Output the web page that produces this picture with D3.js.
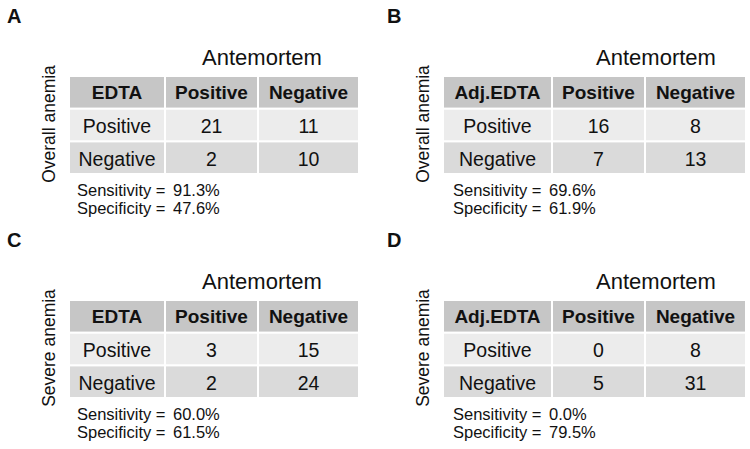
<!DOCTYPE html>
<html>
<head>
<meta charset="utf-8">
<script src="https://cdn.jsdelivr.net/npm/d3@7"></script>
<style>
  body { margin: 0; background: #fff; }
  svg { display: block; font-family: "Liberation Sans", Arial, sans-serif; }
</style>
</head>
<body>
<svg id="chart"></svg>
<script>
// data
const panelLetters = ["A", "B", "C", "D"];
const methods = ["EDTA", "Adj.EDTA", "EDTA", "Adj.EDTA"];
const anemiaTypes = ["Overall anemia", "Overall anemia", "Severe anemia", "Severe anemia"];
const colLabels = ["Positive", "Negative"];
const rowLabels = ["Positive", "Negative"];
const counts = [
  [[21, 11], [2, 10]],
  [[16, 8], [7, 13]],
  [[3, 15], [2, 24]],
  [[0, 8], [5, 31]]
];
const sensitivity = ["91.3%", "69.6%", "60.0%", "0.0%"];
const specificity = ["47.6%", "61.9%", "61.5%", "79.5%"];

const W = 750, H = 449;
const svg = d3.select("#chart").attr("width", W).attr("height", H);

// panel layout
const origins = [[0, 0], [374, 0], [0, 224], [374, 224]];
const firstColW = [94, 107, 94, 107];
const titleDx = [0, 7, 0, 7];
const gap = 2;
const fill = { header: "#c6c6c6", Positive: "#ececec", Negative: "#dadada" };

panelLetters.forEach((letter, p) => {
  const [ox, oy] = origins[p];
  const g = svg.append("g").attr("transform", `translate(${ox},${oy})`);

  const left = 70;
  const widths = [firstColW[p], 91, 99];
  const cols = ["label"].concat(colLabels.map(c => "c_" + c));
  const starts = [];
  widths.reduce((x, w) => { starts.push(x); return x + w + gap; }, left);
  const x = d3.scaleOrdinal().domain(cols).range(starts);
  const w = d3.scaleOrdinal().domain(cols).range(widths);

  const y = d3.scaleBand()
    .domain(["header"].concat(rowLabels))
    .range([77, 173])
    .paddingInner(0.065);

  // panel letter
  g.append("text")
    .attr("x", p % 2 ? 13 : 7)
    .attr("y", 23)
    .attr("font-size", 20)
    .attr("font-weight", "bold")
    .attr("fill", "#111")
    .text(letter);

  // header "Antemortem"
  const c1 = x(cols[1]), c2 = x(cols[2]) + w(cols[2]);
  g.append("text")
    .attr("x", (c1 + c2) / 2 + titleDx[p])
    .attr("y", 65)
    .attr("text-anchor", "middle")
    .attr("font-size", 22)
    .attr("fill", "#111")
    .text("Antemortem");

  // vertical label
  const yMid = (y.range()[0] + y.range()[1]) / 2;
  g.append("text")
    .attr("transform", `translate(${left - 15},${yMid - 1}) rotate(-90)`)
    .attr("text-anchor", "middle")
    .attr("font-size", 17.5)
    .attr("fill", "#111")
    .text(anemiaTypes[p]);

  // header row
  const headerText = [methods[p]].concat(colLabels);
  cols.forEach((c, i) => {
    g.append("rect")
      .attr("x", x(c)).attr("y", y("header"))
      .attr("width", w(c)).attr("height", y.bandwidth())
      .attr("fill", fill.header);
    g.append("text")
      .attr("x", x(c) + w(c) / 2)
      .attr("y", y("header") + y.bandwidth() / 2 + 7)
      .attr("text-anchor", "middle")
      .attr("font-size", 19)
      .attr("font-weight", "bold")
      .attr("fill", "#111")
      .text(headerText[i]);
  });

  // body rows
  rowLabels.forEach((r, ri) => {
    const vals = [r].concat(counts[p][ri]);
    cols.forEach((c, i) => {
      g.append("rect")
        .attr("x", x(c)).attr("y", y(r))
        .attr("width", w(c)).attr("height", y.bandwidth())
        .attr("fill", fill[r]);
      g.append("text")
        .attr("x", x(c) + w(c) / 2)
        .attr("y", y(r) + y.bandwidth() / 2 + 8)
        .attr("text-anchor", "middle")
        .attr("font-size", 19.5)
        .attr("fill", "#111")
        .text(vals[i]);
    });
  });

  // stats
  const statX = left + (p % 2 ? 9 : 7);
  [["Sensitivity =", sensitivity[p], 196], ["Specificity =", specificity[p], 214]].forEach(s => {
    g.append("text")
      .attr("x", statX).attr("y", s[2])
      .attr("font-size", 16.5).attr("fill", "#111")
      .text(s[0]);
    g.append("text")
      .attr("x", statX + 96).attr("y", s[2])
      .attr("font-size", 16.5).attr("fill", "#111")
      .text(s[1]);
  });
});
</script>
</body>
</html>
